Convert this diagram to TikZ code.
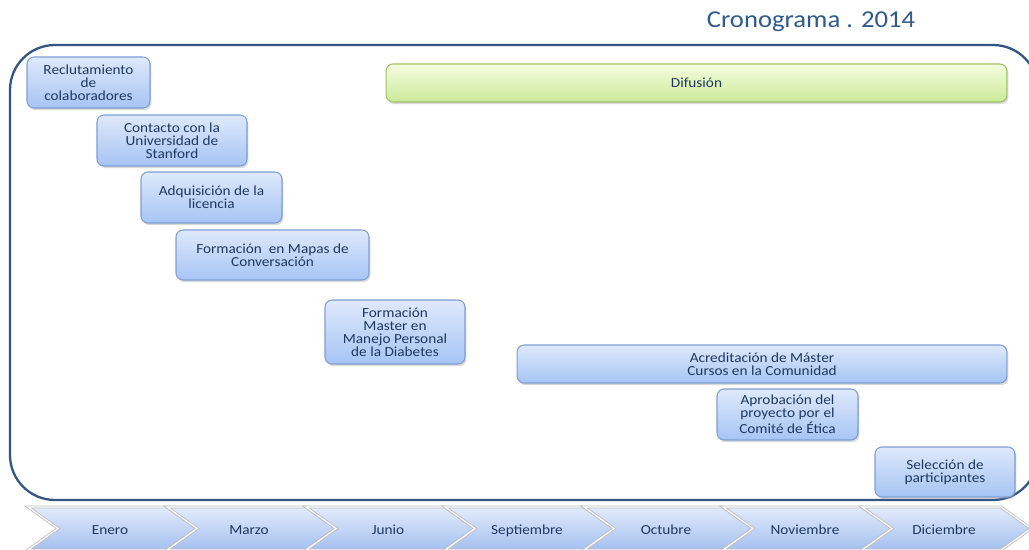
\documentclass[tikz,border=0pt]{standalone}
\usepackage{fontspec}
\setmainfont{Carlito}[FakeStretch=1.1]
\usetikzlibrary{shadows}
\definecolor{cronotext}{RGB}{31,56,96}
\definecolor{cronotitle}{RGB}{46,90,140}
\definecolor{cronoframe}{RGB}{52,86,132}
\definecolor{cronotop}{RGB}{222,233,251}
\definecolor{cronobot}{RGB}{166,196,244}
\definecolor{cronoedge}{RGB}{126,158,212}
\definecolor{difutop}{RGB}{244,253,224}
\definecolor{difubot}{RGB}{204,234,152}
\definecolor{difuedge}{RGB}{160,192,104}
\definecolor{mestop}{RGB}{226,235,251}
\definecolor{mesbot}{RGB}{164,192,240}
\definecolor{mesedge}{RGB}{190,190,196}

\begin{document}
\begin{tikzpicture}[x=0.02cm,y=-0.02cm,
  tarea/.style={draw=cronoedge,line width=0.6pt,rounded corners=4pt,top color=cronotop,bottom color=cronobot,
    drop shadow={shadow xshift=0.8pt,shadow yshift=-1.2pt,opacity=0.3},align=center,inner sep=1pt,
    text=cronotext,font=\fontsize{7.9}{7.4}\selectfont},
  difu/.style={tarea,draw=difuedge,top color=difutop,bottom color=difubot},
  mesflecha/.style={draw=mesedge,line width=0.5pt,double=white,double distance=0.7pt,top color=mestop,bottom color=mesbot},
  meslabel/.style={anchor=base,text=cronotext,font=\fontsize{7.9}{7.4}\selectfont},
  marco/.style={draw=cronoframe,line width=1.3pt,rounded corners=0.9cm}]
\useasboundingbox (0,0) rectangle (1029,550);
\clip (0,0) rectangle (1029,550);
\node[text=cronotitle,font=\fontsize{13.8}{15}\selectfont] (titulo) at (811,22) {Cronograma . 2014};
\draw[marco] (10,45) rectangle (1038,500);
% tareas
\node[tarea,minimum width=2.46cm,minimum height=1.02cm] (reclut) at (88.5,82.5) {Reclutamiento\\de\\colaboradores};
\node[tarea,minimum width=3.0cm,minimum height=1.02cm] (contacto) at (172,140.5) {Contacto con la\\Universidad de\\Stanford};
\node[tarea,minimum width=2.82cm,minimum height=1.02cm] (licencia) at (211.5,197.5) {Adquisición de la\\licencia};
\node[tarea,minimum width=3.86cm,minimum height=1.0cm] (mapas) at (272.5,255) {Formación\ \ en Mapas de\\Conversación};
\node[tarea,minimum width=2.8cm,minimum height=1.28cm] (master) at (395,332) {Formación\\Master en\\Manejo Personal\\de la Diabetes};
\node[difu,minimum width=12.42cm,minimum height=0.76cm] (difusion) at (696.5,83) {Difusión};
\node[tarea,minimum width=9.8cm,minimum height=0.76cm] (acredita) at (762,364) {Acreditación de Máster\\Cursos en la Comunidad};
\node[tarea,minimum width=2.82cm,minimum height=1.02cm] (etica) at (787.5,414.5) {Aprobación del\\proyecto por el\\Comité de Ética};
\node[tarea,minimum width=2.8cm,minimum height=1.0cm] (seleccion) at (945,472) {Selección de\\participantes};
% meses
\foreach \mes [count=\i from 0] in {Enero,Marzo,Junio,Septiembre,Octubre,Noviembre,Diciembre}{
  \draw[mesflecha] ({28+139*\i},507) -- ++(139,0) -- ++(30,21.5) -- ++(-30,21.5) -- ++(-139,0) -- ++(30,-21.5) -- cycle;
  \node[meslabel] (mes\i) at ({110+139*\i},535) {\mes};
}
\end{tikzpicture}
\end{document}
